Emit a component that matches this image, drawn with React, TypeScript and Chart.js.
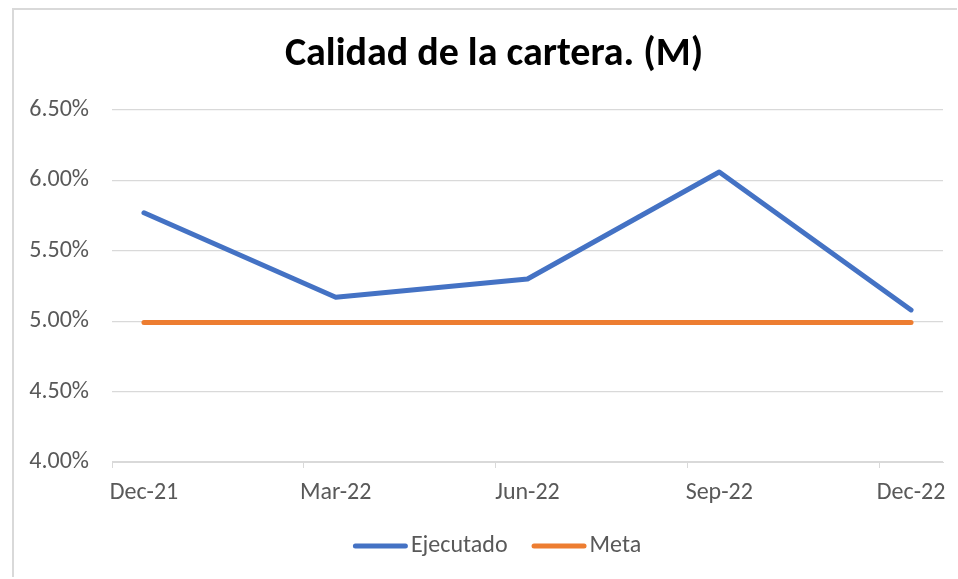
import React, { useEffect, useRef } from "react";
import { Chart, registerables } from "chart.js";

Chart.register(...registerables);

// ---- data ----
const chartTitle = "Calidad de la cartera. (M)";
const periods = ["Dec-21", "Mar-22", "Jun-22", "Sep-22", "Dec-22"];
// months elapsed since Dec-21 for each period
const monthIndex = [0, 3, 6, 9, 12];
const totalMonths = 13;
const ejecutado = [5.77, 5.17, 5.3, 6.06, 5.08];
const meta = [4.99, 4.99, 4.99, 4.99, 4.99];
const yMin = 4.0;
const yMax = 6.5;
const yStep = 0.5;

const FONT = "Carlito, Calibri, 'Open Sans', sans-serif";
const GRID = "#d9d9d9";
const TEXT = "#595959";
const SLOT_CENTER = 0.5;

// Title and legend drawn like Excel (centred on the whole chart object)
const excelDecor = {
  id: "excelDecor",
  afterDraw(chart: any) {
    const ctx = chart.ctx as CanvasRenderingContext2D;
    const cx = 480;
    ctx.save();
    // title
    ctx.fillStyle = "#000000";
    ctx.font = `bold 40px ${FONT}`;
    ctx.textAlign = "center";
    ctx.textBaseline = "middle";
    ctx.fillText(chartTitle, cx, 45);

    // legend
    ctx.font = `24px ${FONT}`;
    const sample = 55;
    const gap = 3;
    const spacing = 24;
    const items = chart.data.datasets.map((ds: any) => ({
      text: ds.label as string,
      color: ds.borderColor as string,
      w: ctx.measureText(ds.label).width,
    }));
    let total = 0;
    items.forEach((it: any, i: number) => {
      total += sample + gap + it.w + (i < items.length - 1 ? spacing : 0);
    });
    let x = 483 - total / 2;
    const y = 536;
    ctx.textAlign = "left";
    ctx.textBaseline = "middle";
    items.forEach((it: any) => {
      ctx.strokeStyle = it.color;
      ctx.lineWidth = 5;
      ctx.lineCap = "round";
      ctx.beginPath();
      ctx.moveTo(x + 2.5, y);
      ctx.lineTo(x + sample - 2.5, y);
      ctx.stroke();
      x += sample + gap;
      ctx.fillStyle = TEXT;
      ctx.fillText(it.text, x, y);
      x += it.w + spacing;
    });
    ctx.restore();
  },
};

export default function App() {
  const ref = useRef<HTMLCanvasElement | null>(null);

  useEffect(() => {
    if (!ref.current) return;
    const labelPos = monthIndex.map((m) => m + SLOT_CENTER);
    const chart = new Chart(ref.current, {
      type: "line",
      data: {
        datasets: [
          {
            label: "Ejecutado",
            data: ejecutado.map((v, i) => ({ x: monthIndex[i] + SLOT_CENTER, y: v })),
            borderColor: "#4472C4",
            backgroundColor: "#4472C4",
            borderWidth: 5,
            pointRadius: 0,
            borderCapStyle: "round",
            borderJoinStyle: "round",
            tension: 0,
          },
          {
            label: "Meta",
            data: meta.map((v, i) => ({ x: monthIndex[i] + SLOT_CENTER, y: v })),
            borderColor: "#ED7D31",
            backgroundColor: "#ED7D31",
            borderWidth: 5,
            pointRadius: 0,
            borderCapStyle: "round",
            borderJoinStyle: "round",
            tension: 0,
          },
        ],
      },
      options: {
        responsive: false,
        animation: false,
        devicePixelRatio: 1,
        layout: { padding: { left: 0, right: 14, top: 100, bottom: 65 } },
        scales: {
          x: {
            type: "linear",
            min: 0,
            max: totalMonths,
            afterBuildTicks: (scale: any) => {
              const t: any[] = [];
              monthIndex.forEach((m) => {
                t.push({ value: m });
                t.push({ value: m + SLOT_CENTER });
              });
              scale.ticks = t;
            },
            afterFit: (scale: any) => {
              scale.height = 50;
            },
            grid: {
              drawOnChartArea: false,
              drawTicks: true,
              tickLength: 6,
              color: (ctx: any) =>
                ctx.tick && Number.isInteger(ctx.tick.value) ? GRID : "rgba(0,0,0,0)",
            },
            border: { display: true, color: GRID, width: 1 },
            ticks: {
              autoSkip: false,
              maxRotation: 0,
              minRotation: 0,
              padding: 11,
              color: TEXT,
              font: { family: FONT, size: 24 },
              callback: (value: any) => {
                const idx = labelPos.indexOf(Number(value));
                return idx >= 0 ? periods[idx] : "";
              },
            },
          },
          y: {
            min: yMin,
            max: yMax,
            afterFit: (scale: any) => {
              scale.width = 98;
            },
            grid: { color: GRID, drawTicks: false, lineWidth: 1.3 },
            border: { display: false },
            ticks: {
              stepSize: yStep,
              padding: 23,
              color: TEXT,
              font: { family: FONT, size: 24 },
              callback: (value: any) => Number(value).toFixed(2) + "%",
            },
          },
        },
        plugins: {
          title: { display: false },
          legend: { display: false },
          tooltip: { enabled: false },
        },
      } as any,
      plugins: [excelDecor],
    });
    return () => chart.destroy();
  }, []);

  return (
    <div
      style={{
        position: "absolute",
        left: 12,
        top: 8,
        width: 943,
        height: 567,
        borderLeft: "2px solid #d9d9d9",
        borderTop: "2px solid #d9d9d9",
        background: "#fff",
      }}
    >
      <canvas ref={ref} width={943} height={567} style={{ display: "block" }} />
    </div>
  );
}
